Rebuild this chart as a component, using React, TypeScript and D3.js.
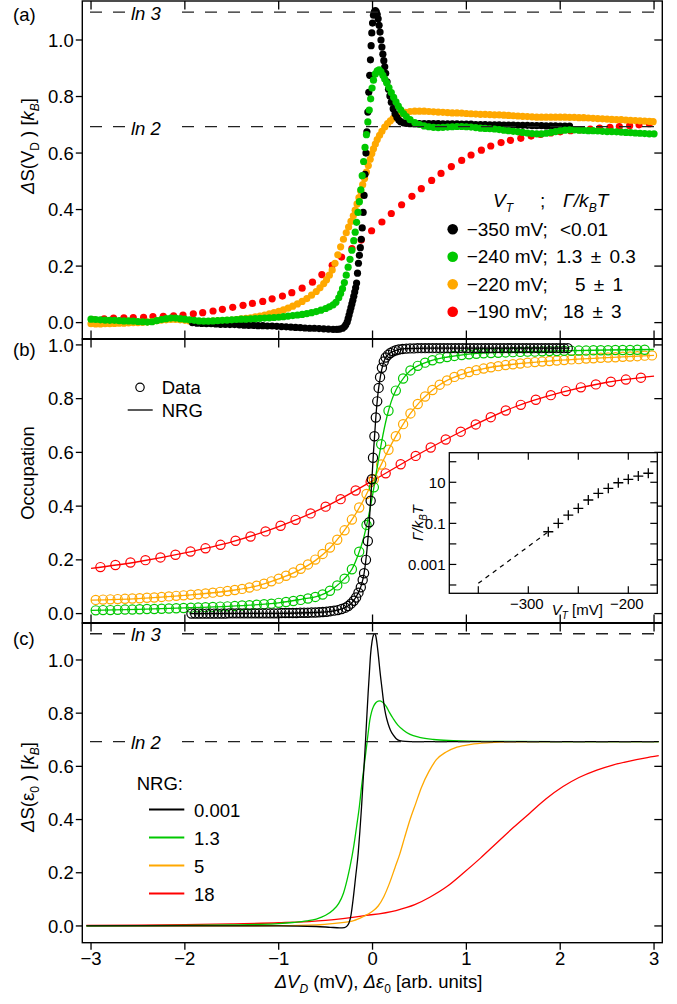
import React from 'react';
import * as d3 from 'd3';

type Pt = [number, number];

// ---------- panel (a): measured entropy (dots) ----------
const entRed: Pt[] = [[-2.97,0.01],[-2.86,0.013],[-2.76,0.016],[-2.65,0.017],[-2.55,0.018],[-2.44,0.019],[-2.34,0.021],[-2.23,0.022],[-2.12,0.024],[-2.02,0.027],[-1.91,0.031],[-1.81,0.035],[-1.7,0.041],[-1.6,0.047],[-1.49,0.054],[-1.38,0.061],[-1.28,0.068],[-1.17,0.075],[-1.07,0.084],[-0.96,0.094],[-0.86,0.106],[-0.75,0.122],[-0.64,0.143],[-0.54,0.17],[-0.43,0.203],[-0.33,0.232],[-0.22,0.262],[-0.12,0.292],[-0.01,0.325],[0.1,0.356],[0.2,0.386],[0.31,0.417],[0.42,0.447],[0.52,0.474],[0.63,0.503],[0.73,0.528],[0.84,0.552],[0.95,0.574],[1.05,0.593],[1.16,0.61],[1.26,0.625],[1.37,0.637],[1.47,0.645],[1.58,0.652],[1.69,0.66],[1.79,0.666],[1.9,0.671],[2.0,0.675],[2.11,0.679],[2.21,0.682],[2.32,0.685],[2.42,0.688],[2.53,0.691],[2.63,0.694],[2.74,0.697],[2.84,0.7],[2.95,0.704]];

const entOrange: Pt[] = [[-3.0,-0.004],[-2.95,-0.005],[-2.9,-0.005],[-2.85,-0.004],[-2.8,-0.004],[-2.75,-0.003],[-2.7,-0.002],[-2.65,-0.002],[-2.6,-0.001],[-2.55,0.0],[-2.5,0.0],[-2.45,0.001],[-2.4,0.002],[-2.35,0.004],[-2.3,0.007],[-2.25,0.009],[-2.2,0.01],[-2.15,0.011],[-2.1,0.011],[-2.05,0.01],[-2.0,0.008],[-1.95,0.006],[-1.9,0.005],[-1.85,0.004],[-1.8,0.004],[-1.75,0.004],[-1.7,0.005],[-1.65,0.006],[-1.6,0.007],[-1.55,0.008],[-1.5,0.009],[-1.45,0.011],[-1.4,0.013],[-1.35,0.015],[-1.3,0.017],[-1.25,0.02],[-1.2,0.023],[-1.15,0.027],[-1.1,0.031],[-1.05,0.035],[-1.0,0.04],[-0.95,0.045],[-0.9,0.051],[-0.85,0.058],[-0.8,0.066],[-0.75,0.075],[-0.7,0.085],[-0.65,0.097],[-0.6,0.11],[-0.56,0.123],[-0.52,0.138],[-0.49,0.152],[-0.46,0.168],[-0.43,0.186],[-0.4,0.21],[-0.37,0.24],[-0.34,0.268],[-0.31,0.295],[-0.28,0.318],[-0.255,0.338],[-0.23,0.358],[-0.205,0.378],[-0.185,0.398],[-0.165,0.42],[-0.145,0.442],[-0.125,0.465],[-0.105,0.488],[-0.085,0.51],[-0.065,0.533],[-0.045,0.556],[-0.025,0.578],[-0.008,0.598],[0.01,0.615],[0.03,0.632],[0.05,0.648],[0.075,0.663],[0.1,0.677],[0.13,0.692],[0.16,0.704],[0.19,0.714],[0.22,0.723],[0.26,0.732],[0.3,0.739],[0.35,0.744],[0.4,0.747],[0.45,0.748],[0.5,0.748],[0.55,0.748],[0.6,0.747],[0.65,0.746],[0.7,0.745],[0.75,0.744],[0.8,0.743],[0.85,0.742],[0.9,0.742],[0.95,0.741],[1.0,0.74],[1.05,0.739],[1.1,0.738],[1.15,0.737],[1.2,0.737],[1.25,0.736],[1.3,0.735],[1.35,0.735],[1.4,0.734],[1.45,0.733],[1.5,0.732],[1.55,0.731],[1.6,0.73],[1.65,0.729],[1.7,0.728],[1.75,0.727],[1.8,0.727],[1.85,0.727],[1.9,0.727],[1.95,0.727],[2.0,0.727],[2.05,0.727],[2.1,0.726],[2.15,0.726],[2.2,0.725],[2.25,0.725],[2.3,0.724],[2.35,0.723],[2.4,0.722],[2.45,0.721],[2.5,0.72],[2.55,0.719],[2.6,0.718],[2.65,0.718],[2.7,0.717],[2.75,0.716],[2.8,0.715],[2.85,0.714],[2.9,0.713],[2.95,0.712],[2.99,0.711]];

const entGreen: Pt[] = [[-3.0,0.012],[-2.95,0.011],[-2.9,0.01],[-2.85,0.009],[-2.8,0.008],[-2.75,0.008],[-2.7,0.007],[-2.65,0.006],[-2.6,0.006],[-2.55,0.005],[-2.5,0.004],[-2.45,0.003],[-2.4,0.002],[-2.35,0.003],[-2.3,0.007],[-2.25,0.011],[-2.2,0.014],[-2.15,0.016],[-2.1,0.016],[-2.05,0.014],[-2.0,0.012],[-1.95,0.01],[-1.9,0.008],[-1.85,0.006],[-1.8,0.005],[-1.75,0.005],[-1.7,0.006],[-1.65,0.007],[-1.6,0.008],[-1.55,0.009],[-1.5,0.01],[-1.45,0.011],[-1.4,0.012],[-1.35,0.012],[-1.3,0.013],[-1.25,0.014],[-1.2,0.015],[-1.15,0.016],[-1.1,0.017],[-1.05,0.018],[-1.0,0.019],[-0.95,0.021],[-0.9,0.023],[-0.85,0.025],[-0.8,0.027],[-0.75,0.029],[-0.7,0.032],[-0.65,0.035],[-0.6,0.039],[-0.55,0.044],[-0.5,0.05],[-0.46,0.056],[-0.42,0.063],[-0.39,0.072],[-0.36,0.088],[-0.34,0.103],[-0.32,0.12],[-0.3,0.142],[-0.28,0.168],[-0.26,0.196],[-0.24,0.224],[-0.22,0.256],[-0.2,0.29],[-0.185,0.32],[-0.17,0.355],[-0.155,0.39],[-0.14,0.428],[-0.125,0.47],[-0.11,0.52],[-0.095,0.57],[-0.08,0.62],[-0.065,0.665],[-0.05,0.71],[-0.035,0.752],[-0.02,0.792],[-0.005,0.83],[0.01,0.858],[0.03,0.88],[0.05,0.891],[0.07,0.894],[0.09,0.887],[0.11,0.875],[0.13,0.862],[0.15,0.849],[0.175,0.832],[0.2,0.814],[0.225,0.797],[0.25,0.781],[0.275,0.766],[0.3,0.753],[0.33,0.74],[0.36,0.729],[0.4,0.718],[0.45,0.708],[0.5,0.701],[0.55,0.696],[0.6,0.693],[0.65,0.691],[0.7,0.69],[0.75,0.691],[0.8,0.692],[0.85,0.693],[0.9,0.694],[0.95,0.694],[1.0,0.693],[1.05,0.692],[1.1,0.69],[1.15,0.688],[1.2,0.687],[1.25,0.686],[1.3,0.685],[1.35,0.683],[1.4,0.681],[1.45,0.679],[1.5,0.677],[1.55,0.675],[1.6,0.673],[1.65,0.671],[1.7,0.669],[1.75,0.668],[1.8,0.668],[1.85,0.67],[1.9,0.673],[1.95,0.676],[2.0,0.679],[2.05,0.681],[2.1,0.682],[2.15,0.682],[2.2,0.681],[2.25,0.68],[2.3,0.679],[2.35,0.679],[2.4,0.678],[2.45,0.677],[2.5,0.676],[2.55,0.676],[2.6,0.675],[2.65,0.674],[2.7,0.673],[2.75,0.672],[2.8,0.671],[2.85,0.67],[2.9,0.669],[2.95,0.668],[3.0,0.668]];

const entBlack: Pt[] = [[-1.92,0.0],[-1.87,-0.002],[-1.82,-0.003],[-1.77,-0.004],[-1.72,-0.004],[-1.67,-0.005],[-1.62,-0.006],[-1.57,-0.006],[-1.52,-0.007],[-1.47,-0.007],[-1.42,-0.008],[-1.37,-0.009],[-1.32,-0.01],[-1.27,-0.01],[-1.22,-0.011],[-1.17,-0.011],[-1.12,-0.012],[-1.07,-0.012],[-1.02,-0.013],[-0.97,-0.014],[-0.92,-0.015],[-0.87,-0.016],[-0.82,-0.017],[-0.77,-0.018],[-0.72,-0.019],[-0.67,-0.02],[-0.62,-0.02],[-0.57,-0.021],[-0.52,-0.022],[-0.47,-0.023],[-0.42,-0.024],[-0.38,-0.024],[-0.35,-0.023],[-0.32,-0.02],[-0.3,-0.015],[-0.285,-0.008],[-0.27,0.002],[-0.26,0.014],[-0.25,0.027],[-0.24,0.04],[-0.23,0.053],[-0.22,0.066],[-0.21,0.079],[-0.2,0.093],[-0.19,0.108],[-0.18,0.123],[-0.17,0.14],[-0.16,0.175],[-0.15,0.21],[-0.14,0.238],[-0.13,0.265],[-0.12,0.295],[-0.11,0.335],[-0.1,0.39],[-0.09,0.45],[-0.08,0.525],[-0.07,0.6],[-0.06,0.675],[-0.05,0.745],[-0.04,0.815],[-0.03,0.875],[-0.022,0.93],[-0.015,0.98],[-0.008,1.025],[0.0,1.06],[0.01,1.088],[0.02,1.1],[0.03,1.104],[0.04,1.1],[0.05,1.09],[0.06,1.075],[0.07,1.052],[0.08,1.028],[0.09,1.0],[0.1,0.975],[0.11,0.95],[0.12,0.927],[0.13,0.905],[0.14,0.882],[0.155,0.852],[0.17,0.826],[0.185,0.802],[0.2,0.78],[0.22,0.757],[0.24,0.739],[0.26,0.726],[0.28,0.717],[0.3,0.711],[0.33,0.707],[0.36,0.705],[0.4,0.704],[0.45,0.704],[0.5,0.704],[0.55,0.704],[0.6,0.704],[0.65,0.704],[0.7,0.704],[0.75,0.703],[0.8,0.703],[0.85,0.703],[0.9,0.703],[0.95,0.702],[1.0,0.702],[1.05,0.702],[1.1,0.701],[1.15,0.701],[1.2,0.701],[1.25,0.7],[1.3,0.7],[1.35,0.7],[1.4,0.699],[1.45,0.699],[1.5,0.699],[1.55,0.698],[1.6,0.698],[1.65,0.698],[1.7,0.697],[1.75,0.697],[1.8,0.697],[1.85,0.696],[1.9,0.696],[1.95,0.696],[2.0,0.695],[2.05,0.695],[2.1,0.695]];

// ---------- panel (b): occupation data (circles, evenly swept) ----------
const occRedX0 = -2.9;
const occRedDx = 0.16;
const occRed = [0.173,0.181,0.19,0.199,0.209,0.219,0.231,0.243,0.256,0.271,0.287,0.306,0.327,0.349,0.373,0.398,0.426,0.458,0.49,0.522,0.556,0.587,0.618,0.648,0.677,0.704,0.731,0.756,0.777,0.796,0.813,0.828,0.842,0.853,0.863,0.871,0.878];

const occOrangeX0 = -2.95;
const occOrangeDx = 0.078;
const occOrange = [0.051,0.052,0.053,0.054,0.055,0.056,0.057,0.059,0.06,0.062,0.064,0.066,0.068,0.07,0.072,0.075,0.078,0.081,0.084,0.088,0.092,0.097,0.104,0.111,0.12,0.13,0.141,0.153,0.167,0.183,0.201,0.222,0.246,0.275,0.31,0.35,0.395,0.445,0.5,0.555,0.61,0.66,0.705,0.745,0.78,0.808,0.832,0.852,0.868,0.881,0.891,0.899,0.906,0.912,0.917,0.921,0.925,0.928,0.931,0.934,0.936,0.938,0.94,0.942,0.944,0.946,0.947,0.949,0.95,0.952,0.953,0.954,0.956,0.957,0.958,0.96,0.961];

const occGreenX0 = -2.95;
const occGreenDx = 0.078;
const occGreen = [0.012,0.013,0.013,0.014,0.015,0.015,0.016,0.017,0.017,0.018,0.019,0.02,0.021,0.022,0.023,0.024,0.025,0.026,0.027,0.028,0.03,0.031,0.033,0.035,0.037,0.04,0.043,0.047,0.051,0.056,0.062,0.071,0.085,0.105,0.13,0.165,0.23,0.33,0.47,0.63,0.755,0.83,0.875,0.905,0.922,0.934,0.943,0.95,0.955,0.959,0.962,0.965,0.967,0.969,0.97,0.971,0.972,0.973,0.974,0.975,0.975,0.976,0.977,0.977,0.978,0.978,0.979,0.979,0.98,0.98,0.98,0.981,0.981,0.981,0.982,0.982];

const occBlack: Pt[] = [[-1.93,0.0],[-1.89,0.0],[-1.85,0.0],[-1.81,0.0],[-1.77,0.0],[-1.73,0.0],[-1.69,0.0],[-1.65,0.0],[-1.61,0.0],[-1.57,0.0],[-1.53,0.001],[-1.49,0.001],[-1.45,0.001],[-1.41,0.001],[-1.37,0.001],[-1.33,0.001],[-1.29,0.001],[-1.25,0.001],[-1.21,0.001],[-1.17,0.001],[-1.13,0.001],[-1.09,0.001],[-1.05,0.001],[-1.01,0.001],[-0.97,0.002],[-0.93,0.002],[-0.89,0.002],[-0.85,0.002],[-0.81,0.002],[-0.77,0.003],[-0.73,0.003],[-0.69,0.003],[-0.65,0.004],[-0.61,0.004],[-0.57,0.005],[-0.53,0.006],[-0.49,0.007],[-0.45,0.009],[-0.41,0.011],[-0.37,0.013],[-0.33,0.017],[-0.29,0.022],[-0.26,0.028],[-0.23,0.037],[-0.2,0.048],[-0.175,0.06],[-0.15,0.078],[-0.125,0.098],[-0.105,0.125],[-0.09,0.15],[-0.07,0.2],[-0.05,0.27],[-0.035,0.34],[-0.02,0.42],[-0.008,0.5],[0.005,0.58],[0.02,0.66],[0.035,0.73],[0.05,0.79],[0.065,0.84],[0.08,0.88],[0.1,0.915],[0.12,0.938],[0.14,0.953],[0.165,0.963],[0.19,0.97],[0.22,0.976],[0.25,0.98],[0.28,0.983],[0.32,0.985],[0.36,0.986],[0.4,0.987],[0.44,0.987],[0.48,0.988],[0.52,0.988],[0.56,0.988],[0.6,0.988],[0.64,0.988],[0.68,0.988],[0.72,0.988],[0.76,0.988],[0.8,0.988],[0.84,0.988],[0.88,0.988],[0.92,0.988],[0.96,0.988],[1.0,0.988],[1.04,0.988],[1.08,0.988],[1.12,0.988],[1.16,0.988],[1.2,0.988],[1.24,0.988],[1.28,0.988],[1.32,0.988],[1.36,0.988],[1.4,0.988],[1.44,0.988],[1.48,0.988],[1.52,0.988],[1.56,0.988],[1.6,0.988],[1.64,0.988],[1.68,0.988],[1.72,0.988],[1.76,0.988],[1.8,0.988],[1.84,0.988],[1.88,0.988],[1.92,0.988],[1.96,0.988],[2.0,0.988],[2.04,0.988],[2.08,0.988]];

// NRG fits drawn through the occupation data
const fitRed: Pt[] = [[-3.0,0.168],[-2.5,0.193],[-2.0,0.226],[-1.5,0.267],[-1.0,0.324],[-0.5,0.398],[0.0,0.494],[0.5,0.595],[1.0,0.687],[1.5,0.767],[2.0,0.822],[2.5,0.861],[3.0,0.884]];
const fitOrange: Pt[] = [[-3.0,0.05],[-2.5,0.056],[-2.0,0.068],[-1.5,0.086],[-1.2,0.106],[-1.0,0.129],[-0.8,0.158],[-0.6,0.2],[-0.45,0.246],[-0.3,0.31],[-0.2,0.36],[-0.1,0.42],[0.0,0.49],[0.1,0.56],[0.2,0.63],[0.3,0.69],[0.4,0.743],[0.5,0.786],[0.6,0.82],[0.7,0.848],[0.8,0.869],[0.9,0.884],[1.0,0.896],[1.2,0.913],[1.5,0.928],[2.0,0.943],[2.5,0.953],[3.0,0.961]];
const fitGreen: Pt[] = [[-3.0,0.012],[-2.5,0.016],[-2.0,0.021],[-1.5,0.028],[-1.0,0.04],[-0.75,0.054],[-0.6,0.063],[-0.5,0.076],[-0.4,0.098],[-0.3,0.13],[-0.22,0.165],[-0.15,0.222],[-0.1,0.275],[-0.05,0.35],[0.0,0.44],[0.05,0.545],[0.1,0.645],[0.15,0.728],[0.2,0.79],[0.25,0.832],[0.3,0.862],[0.4,0.904],[0.5,0.925],[0.6,0.939],[0.8,0.955],[1.0,0.965],[1.5,0.974],[2.0,0.978],[2.5,0.981],[3.0,0.983]];
const fitBlack: Pt[] = [[-1.95,0.0],[-1.0,0.001],[-0.6,0.004],[-0.4,0.011],[-0.3,0.021],[-0.22,0.04],[-0.16,0.072],[-0.12,0.105],[-0.09,0.15],[-0.06,0.235],[-0.035,0.34],[-0.01,0.48],[0.01,0.6],[0.035,0.73],[0.06,0.825],[0.085,0.885],[0.11,0.926],[0.14,0.953],[0.18,0.968],[0.25,0.98],[0.35,0.986],[0.6,0.988],[1.2,0.988],[2.1,0.988]];

// ---------- panel (c): NRG entropy curves ----------
const nrgBlack: Pt[] = [[-3.05,0.0],[-2.0,0.0],[-1.0,0.0],[-0.6,-0.002],[-0.45,-0.005],[-0.35,-0.007],[-0.3,-0.006],[-0.27,0.0],[-0.25,0.012],[-0.23,0.04],[-0.207,0.1],[-0.18,0.185],[-0.153,0.273],[-0.135,0.355],[-0.117,0.448],[-0.1,0.548],[-0.082,0.649],[-0.065,0.76],[-0.047,0.875],[-0.033,0.955],[-0.021,1.02],[-0.005,1.07],[0.01,1.094],[0.022,1.099],[0.035,1.09],[0.05,1.055],[0.065,1.008],[0.078,0.962],[0.1,0.895],[0.12,0.837],[0.14,0.795],[0.166,0.76],[0.19,0.737],[0.22,0.718],[0.25,0.705],[0.29,0.697],[0.35,0.694],[0.45,0.693],[1.0,0.693],[2.0,0.693],[3.05,0.693]];
const nrgGreen: Pt[] = [[-3.05,0.0],[-2.5,0.001],[-2.0,0.002],[-1.5,0.004],[-1.2,0.006],[-1.0,0.009],[-0.85,0.013],[-0.7,0.019],[-0.6,0.026],[-0.5,0.04],[-0.42,0.06],[-0.36,0.085],[-0.31,0.123],[-0.27,0.175],[-0.24,0.223],[-0.2,0.3],[-0.17,0.373],[-0.14,0.45],[-0.117,0.524],[-0.09,0.6],[-0.064,0.674],[-0.045,0.73],[-0.029,0.774],[-0.01,0.805],[0.01,0.825],[0.035,0.839],[0.06,0.845],[0.08,0.846],[0.1,0.843],[0.125,0.835],[0.149,0.824],[0.18,0.803],[0.22,0.78],[0.27,0.755],[0.326,0.737],[0.4,0.72],[0.5,0.709],[0.65,0.701],[0.86,0.697],[1.2,0.694],[2.0,0.693],[3.05,0.693]];
const nrgOrange: Pt[] = [[-3.05,0.0],[-2.0,0.0],[-1.0,0.001],[-0.6,0.004],[-0.4,0.01],[-0.2,0.02],[-0.1,0.035],[0.0,0.055],[0.06,0.075],[0.12,0.11],[0.18,0.16],[0.24,0.22],[0.29,0.27],[0.34,0.33],[0.4,0.4],[0.46,0.46],[0.52,0.52],[0.6,0.58],[0.68,0.625],[0.78,0.653],[0.9,0.672],[1.05,0.683],[1.25,0.689],[1.5,0.692],[2.0,0.693],[3.05,0.693]];
const nrgRed: Pt[] = [[-3.05,0.002],[-2.5,0.003],[-2.0,0.005],[-1.5,0.008],[-1.0,0.012],[-0.5,0.021],[-0.1,0.038],[0.25,0.058],[0.45,0.08],[0.61,0.108],[0.8,0.15],[0.965,0.198],[1.15,0.255],[1.32,0.311],[1.5,0.37],[1.675,0.424],[1.85,0.478],[2.03,0.524],[2.2,0.558],[2.39,0.586],[2.56,0.605],[2.74,0.62],[2.9,0.631],[3.05,0.64]];

// ---------- inset: coupling vs gate voltage ----------
const insetVt = [-280, -270, -260, -250, -240, -230, -220, -210, -200, -190, -180];
const insetGamma = [0.039, 0.1, 0.25, 0.54, 1.37, 2.9, 5.1, 9.5, 14, 20, 27.5];
const insetExtrapVt = [-350, -280];
const insetExtrapGamma = [0.00012, 0.039];

// ---------- labels ----------
const xTicks = [-3, -2, -1, 0, 1, 2, 3];
const yTicks = [0, 0.2, 0.4, 0.6, 0.8, 1.0];
const insetXTicks = [-350, -300, -250, -200];
const insetXLabels = [-300, -200];
const insetYTicks = [100, 10, 1, 0.1, 0.01, 0.001, 0.0001];
const insetYLabels = [10, 0.1, 0.001];
const lnLevels = [
  { label: 'ln 3', value: Math.log(3) },
  { label: 'ln 2', value: Math.log(2) },
];
const legendVt = ['\u2212350 mV;', '\u2212240 mV;', '\u2212220 mV;', '\u2212190 mV;'];
const legendGamma = ['<0.01', '1.3 \u00b1 0.3', '5 \u00b1 1', '18 \u00b1 3'];
const nrgLabels = ['0.001', '1.3', '5', '18'];

const BLACK = '#000000';
const GREEN = '#00c800';
const ORANGE = '#ffa800';
const RED = '#ff0000';
const seriesColors = [BLACK, GREEN, ORANGE, RED];

const FONT = '"Liberation Sans", Arial, Helvetica, sans-serif';
const FS = 18.5;
const W = 677;
const H = 1004;
const L = 82.3;
const R = 662.3;

const x = d3.scaleLinear().domain([-3.093, 3.088]).range([L, R]);
const yA = d3.scaleLinear().domain([-0.058, 1.138]).range([339, 1]);
const yB = d3.scaleLinear().domain([-0.035, 1.022]).range([623, 339]);
const yC = d3.scaleLinear().domain([-0.063, 1.139]).range([942.7, 623]);

const xI = d3.scaleLinear().domain([-379, -171]).range([449.3, 657.3]);
const yI = d3.scaleLog().domain([Math.pow(10, -4.405), Math.pow(10, 2.44)]).range([593.3, 452.7]);

// start of the Γ column for each legend row (the original aligns them by hand)
const gammaColX = [560, 556, 575, 563];

const fmtMinus = (v: number) => (v < 0 ? '\u2212' + Math.abs(v) : String(v));

function linePath(data: Pt[], y: d3.ScaleLinear<number, number>) {
  return d3
    .line<Pt>()
    .x((d) => x(d[0]))
    .y((d) => y(d[1]))
    .curve(d3.curveMonotoneX)(data) as string;
}

function Frame({ y, top, bottom, bottomOut }: { y: d3.ScaleLinear<number, number>; top: number; bottom: number; bottomOut: boolean }) {
  return (
    <g stroke={BLACK} strokeWidth={1.3}>
      <rect x={L} y={top} width={R - L} height={bottom - top} fill="none" strokeWidth={1.4} />
      {yTicks.map((t) => (
        <g key={'y' + t}>
          <line x1={L - 6.5} x2={L} y1={y(t)} y2={y(t)} />
          <line x1={R - 8} x2={R} y1={y(t)} y2={y(t)} />
        </g>
      ))}
      {xTicks.map((t) => (
        <g key={'x' + t}>
          <line x1={x(t)} x2={x(t)} y1={top} y2={top + 8.5} />
          <line x1={x(t)} x2={x(t)} y1={bottom} y2={bottomOut ? bottom + 7 : bottom - 8.5} />
        </g>
      ))}
    </g>
  );
}

function YLabels({ y }: { y: d3.ScaleLinear<number, number> }) {
  return (
    <g fontSize={FS} textAnchor="end">
      {yTicks.map((t) => (
        <text key={t} x={L - 8.5} y={y(t) + 6.6}>
          {t.toFixed(1)}
        </text>
      ))}
    </g>
  );
}

function LnLines({ y, baseOffset }: { y: d3.ScaleLinear<number, number>; baseOffset: number }) {
  return (
    <g>
      {lnLevels.map((lv) => (
        <g key={lv.label}>
          <line x1={L} x2={R} y1={y(lv.value)} y2={y(lv.value)} stroke="#222" strokeWidth={1.3} strokeDasharray="12 11" strokeDashoffset={15.3} />
          <rect x={125} y={y(lv.value) - 3} width={46} height={6} fill="#fff" />
          <text x={131} y={y(lv.value) + baseOffset} fontSize={FS} fontStyle="italic">
            {lv.label}
          </text>
        </g>
      ))}
    </g>
  );
}

export default function App() {
  const occRedPts: Pt[] = occRed.map((v, i) => [occRedX0 + i * occRedDx, v]);
  const occOrangePts: Pt[] = occOrange.map((v, i) => [occOrangeX0 + i * occOrangeDx, v]);
  const occGreenPts: Pt[] = occGreen.map((v, i) => [occGreenX0 + i * occGreenDx, v]);

  const dotSeriesA: [Pt[], string][] = [
    [entRed, RED],
    [entOrange, ORANGE],
    [entBlack, BLACK],
    [entGreen, GREEN],
  ];
  const occSeries: [Pt[], Pt[], string][] = [
    [occRedPts, fitRed, RED],
    [occOrangePts, fitOrange, ORANGE],
    [occGreenPts, fitGreen, GREEN],
    [occBlack, fitBlack, BLACK],
  ];
  const nrgSeries: [Pt[], string][] = [
    [nrgRed, RED],
    [nrgOrange, ORANGE],
    [nrgGreen, GREEN],
    [nrgBlack, BLACK],
  ];

  const insetLine = d3
    .line<number>()
    .x((_, i) => xI(insetExtrapVt[i]))
    .y((_, i) => yI(insetExtrapGamma[i]))(insetExtrapVt) as string;

  return (
    <svg width={W} height={H} style={{ position: 'absolute', left: 0, top: 0, background: '#fff' }} fontFamily={FONT}>
      <rect width={W} height={H} fill="#fff" />

      {/* ---------- panel (a) ---------- */}
      {dotSeriesA.map(([data, color], k) => (
        <g key={k} fill={color}>
          {data.map((d, i) => (
            <circle key={i} cx={x(d[0])} cy={yA(d[1])} r={3.6} />
          ))}
        </g>
      ))}
      <LnLines y={yA} baseOffset={8} />
      <Frame y={yA} top={1} bottom={339} bottomOut={false} />
      <YLabels y={yA} />
      <text x={13} y={21} fontSize={FS}>(a)</text>
      <text transform="translate(33.5,146) rotate(-90)" fontSize={FS} textAnchor="middle">
        <tspan fontStyle="italic">{'\u0394'}</tspan>S(V<tspan dy={5} fontSize={12}>D</tspan>
        <tspan dy={-5}>{' ) ['}</tspan>
        <tspan fontStyle="italic">k</tspan>
        <tspan dy={5} fontSize={12} fontStyle="italic">B</tspan>
        <tspan dy={-5}>]</tspan>
      </text>
      {/* legend (a) */}
      <g fontSize={19}>
        <text x={493} y={207} fontStyle="italic">
          V<tspan dy={5} fontSize={12}>T</tspan>
        </text>
        <text x={540} y={207}>;</text>
        <text x={563} y={207} fontStyle="italic">
          {'\u0393/k'}
          <tspan dy={5} fontSize={12}>B</tspan>
          <tspan dy={-5}>T</tspan>
        </text>
        {legendVt.map((lab, i) => {
          const cy = 229.3 + i * 27.5;
          return (
            <g key={lab}>
              <circle cx={452.7} cy={cy} r={5.3} fill={seriesColors[i]} />
              <text x={466.7} y={cy + 6.5}>{lab}</text>
              <text x={gammaColX[i]} y={cy + 6.5} wordSpacing={3}>{legendGamma[i]}</text>
            </g>
          );
        })}
      </g>

      {/* ---------- panel (b) ---------- */}
      {occSeries.map(([pts, fit, color], k) => (
        <g key={k}>
          <path d={linePath(fit, yB)} fill="none" stroke={color} strokeWidth={1.3} />
          {pts.map((d, i) => (
            <circle key={i} cx={x(d[0])} cy={yB(d[1])} r={4.6} fill="none" stroke={color} strokeWidth={1.2} />
          ))}
        </g>
      ))}
      <Frame y={yB} top={339} bottom={623} bottomOut={false} />
      <YLabels y={yB} />
      <text x={13} y={356} fontSize={FS}>(b)</text>
      <text transform="translate(33.5,473) rotate(-90)" fontSize={FS} textAnchor="middle">
        Occupation
      </text>
      <g fontSize={FS}>
        <circle cx={140} cy={387.3} r={4.2} fill="none" stroke={BLACK} strokeWidth={1.2} />
        <text x={161.7} y={393.5}>Data</text>
        <line x1={127.7} x2={152.7} y1={410} y2={410} stroke={BLACK} strokeWidth={1.3} />
        <text x={161.7} y={417}>NRG</text>
      </g>

      {/* inset */}
      <g>
        <rect x={449.3} y={452.7} width={208} height={140.6} fill="#fff" stroke={BLACK} strokeWidth={1.3} />
        <g stroke={BLACK} strokeWidth={1.2}>
          {insetXTicks.map((t) => (
            <g key={t}>
              <line x1={xI(t)} x2={xI(t)} y1={452.7} y2={459.7} />
              <line x1={xI(t)} x2={xI(t)} y1={593.3} y2={586.3} />
            </g>
          ))}
          {insetYTicks.map((t) => (
            <g key={t}>
              <line x1={449.3} x2={456.3} y1={yI(t)} y2={yI(t)} />
              <line x1={657.3} x2={650.3} y1={yI(t)} y2={yI(t)} />
            </g>
          ))}
        </g>
        <path d={insetLine} fill="none" stroke={BLACK} strokeWidth={1.2} strokeDasharray="4.5 4.5" />
        <g stroke={BLACK} strokeWidth={1.3}>
          {insetVt.map((v, i) => {
            const cx = xI(v);
            const cy = yI(insetGamma[i]);
            return <path key={v} d={`M${cx - 5},${cy}H${cx + 5}M${cx},${cy - 5}V${cy + 5}`} />;
          })}
        </g>
        <g fontSize={15}>
          {insetYLabels.map((t) => (
            <text key={t} x={445.5} y={yI(t) + 5.3} textAnchor="end">
              {String(t)}
            </text>
          ))}
          {insetXLabels.map((t) => (
            <text key={t} x={xI(t) - 1.5} y={609} textAnchor="middle">
              {fmtMinus(t)}
            </text>
          ))}
          <text x={551.7} y={615}>
            <tspan fontStyle="italic">V</tspan>
            <tspan dy={4} fontSize={10} fontStyle="italic">T</tspan>
            <tspan dy={-4}>{' [mV]'}</tspan>
          </text>
          <text transform="translate(423,523) rotate(-90)" textAnchor="middle" fontStyle="italic">
            {'\u0393/k'}
            <tspan dy={4} fontSize={10}>B</tspan>
            <tspan dy={-4}>T</tspan>
          </text>
        </g>
      </g>

      {/* ---------- panel (c) ---------- */}
      {nrgSeries.map(([data, color], k) => (
        <path key={k} d={linePath(data, yC)} fill="none" stroke={color} strokeWidth={1.3} />
      ))}
      <LnLines y={yC} baseOffset={7.5} />
      <Frame y={yC} top={623} bottom={942.7} bottomOut={true} />
      <YLabels y={yC} />
      <text x={13} y={645} fontSize={FS}>(c)</text>
      <text transform="translate(33.5,787) rotate(-90)" fontSize={FS} textAnchor="middle">
        <tspan fontStyle="italic">{'\u0394'}</tspan>S({'\u03b5'}<tspan dy={5} fontSize={12}>0</tspan>
        <tspan dy={-5}>{' ) ['}</tspan>
        <tspan fontStyle="italic">k</tspan>
        <tspan dy={5} fontSize={12} fontStyle="italic">B</tspan>
        <tspan dy={-5}>]</tspan>
      </text>
      <g fontSize={FS}>
        <text x={136.7} y={790}>NRG:</text>
        {nrgLabels.map((lab, i) => {
          const ly = 809.5 + i * 28;
          return (
            <g key={lab}>
              <line x1={149} x2={184.3} y1={ly} y2={ly} stroke={seriesColors[i]} strokeWidth={2} />
              <text x={194} y={ly + 7}>{lab}</text>
            </g>
          );
        })}
      </g>

      {/* panel boundaries */}
      <line x1={L} x2={R} y1={339} y2={339} stroke={BLACK} strokeWidth={2.2} />
      <line x1={L} x2={R} y1={623} y2={623} stroke={BLACK} strokeWidth={2.2} />

      {/* x axis labels */}
      <g fontSize={FS} textAnchor="middle">
        {xTicks.map((t) => (
          <text key={t} x={x(t)} y={965}>
            {fmtMinus(t)}
          </text>
        ))}
      </g>
      <text x={378.5} y={988} fontSize={FS} textAnchor="middle">
        <tspan fontStyle="italic">{'\u0394V'}</tspan>
        <tspan dy={5} fontSize={12} fontStyle="italic">D</tspan>
        <tspan dy={-5}>{' (mV), '}</tspan>
        <tspan fontStyle="italic">{'\u0394\u03b5'}</tspan>
        <tspan dy={5} fontSize={12}>0</tspan>
        <tspan dy={-5}>{' [arb. units]'}</tspan>
      </text>
    </svg>
  );
}
